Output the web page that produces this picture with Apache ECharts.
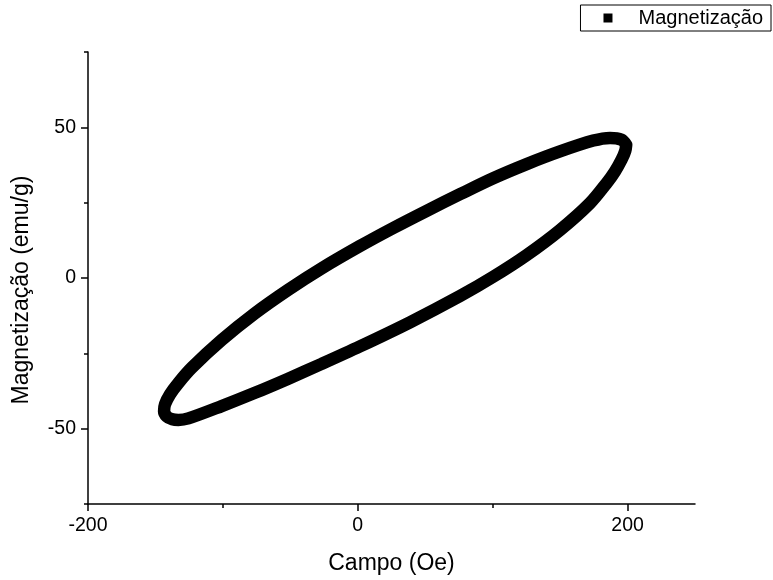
<!DOCTYPE html>
<html>
<head>
<meta charset="utf-8">
<script src="https://cdn.jsdelivr.net/npm/echarts@6/dist/echarts.min.js"></script>
<style>
  html, body { margin: 0; padding: 0; background: #fff; }
  #chart { width: 773px; height: 580px; }
</style>
</head>
<body>
<div id="chart"></div>
<script>
// Hysteresis loop: field (Oe) and magnetization (emu/g), traced once around the loop
const fieldOe = [
  199.0, 195.6, 187.0, 174.6, 149.9, 125.2, 100.4, 75.8, 51.1, 26.3, 1.6,
  -26.8, -51.5, -76.2, -100.9, -123.1, -133.1, -139.2, -142.9, -143.6,
  -141.5, -137.5, -133.0, -125.6, -100.9, -76.2, -51.5, -26.8, 1.6, 38.7,
  75.8, 100.4, 125.2, 149.9, 172.1, 184.5, 190.7, 195.6, 198.3, 199.0
];
const magnetization = [
  44.2, 45.9, 46.5, 45.6, 42.0, 37.8, 33.1, 27.8, 22.3, 16.6, 10.6,
  3.2, -3.9, -11.7, -20.6, -29.8, -34.9, -38.6, -41.9, -44.2,
  -46.0, -46.9, -47.1, -46.6, -42.5, -38.1, -33.4, -28.5, -22.7, -14.7,
  -6.0, 0.4, 7.6, 15.9, 24.8, 31.5, 35.4, 39.3, 42.2, 44.2
];

const xMajorTicks = [-200, 0, 200];
const xMinorTicks = [-200, -100, 0, 100, 200];
const yMajorTicks = [-50, 0, 50];
const yMinorTicks = [-75, -50, -25, 0, 25, 50, 75];

const seriesName = 'Magnetização';
const xName = 'Campo (Oe)';
const yName = 'Magnetização (emu/g)';

const FONT = '"Liberation Sans", Arial, sans-serif';
const points = fieldOe.map((h, i) => [h, magnetization[i]]);

const chart = echarts.init(document.getElementById('chart'), null, { renderer: 'canvas' });

const baseX = {
  type: 'value', min: -200, max: 250, interval: 100,
  position: 'bottom', splitLine: { show: false }
};
const baseY = {
  type: 'value', min: -75, max: 75, interval: 25,
  position: 'left', splitLine: { show: false }
};
const tickLine = { color: '#000', width: 1.5 };

chart.setOption({
  animation: false,
  backgroundColor: '#fff',
  grid: { left: 88, right: 78, top: 52, bottom: 75, containLabel: false },
  legend: {
    data: [{ name: seriesName, icon: 'rect' }],
    right: 2, top: 5,
    orient: 'horizontal',
    itemWidth: 9, itemHeight: 9,
    borderColor: '#000', borderWidth: 1, borderRadius: 0,
    padding: [3, 8, 3, 23],
    textStyle: { fontFamily: FONT, fontSize: 20, color: '#000', padding: [0, 0, 0, 21] }
  },
  xAxis: [
    Object.assign({}, baseX, {
      name: xName, nameLocation: 'middle', nameGap: 48,
      nameTextStyle: { fontFamily: FONT, fontSize: 23, color: '#000' },
      axisLine: { show: true, onZero: false, lineStyle: tickLine },
      axisTick: { show: true, length: 4, customValues: xMinorTicks, lineStyle: tickLine },
      axisLabel: { show: true, customValues: xMajorTicks, margin: 12,
                   fontFamily: FONT, fontSize: 19.5, color: '#000' }
    }),
    Object.assign({}, baseX, {
      axisLine: { show: false, onZero: false },
      axisTick: { show: true, length: 7, customValues: xMajorTicks, lineStyle: tickLine },
      axisLabel: { show: false }
    })
  ],
  yAxis: [
    Object.assign({}, baseY, {
      name: yName, nameLocation: 'middle', nameGap: 55,
      // extra trailing padding nudges the rotated title a little lower on the axis
      nameTextStyle: { fontFamily: FONT, fontSize: 23, color: '#000', padding: [0, 24, 0, 0] },
      axisLine: { show: true, onZero: false, lineStyle: tickLine },
      axisTick: { show: true, length: 4, customValues: yMinorTicks, lineStyle: tickLine },
      axisLabel: { show: true, customValues: yMajorTicks, margin: 12,
                   fontFamily: FONT, fontSize: 19.5, color: '#000' }
    }),
    Object.assign({}, baseY, {
      axisLine: { show: false, onZero: false },
      axisTick: { show: true, length: 7, customValues: yMajorTicks, lineStyle: tickLine },
      axisLabel: { show: false }
    })
  ],
  series: [{
    name: seriesName,
    type: 'line',
    xAxisIndex: 0, yAxisIndex: 0,
    data: points,
    smooth: 0.3,
    showSymbol: false,
    symbol: 'rect',
    symbolSize: 9,
    itemStyle: { color: '#000' },
    lineStyle: { color: '#000', width: 12.5, cap: 'round', join: 'round' },
    emphasis: { disabled: true }
  }]
});
</script>
</body>
</html>
